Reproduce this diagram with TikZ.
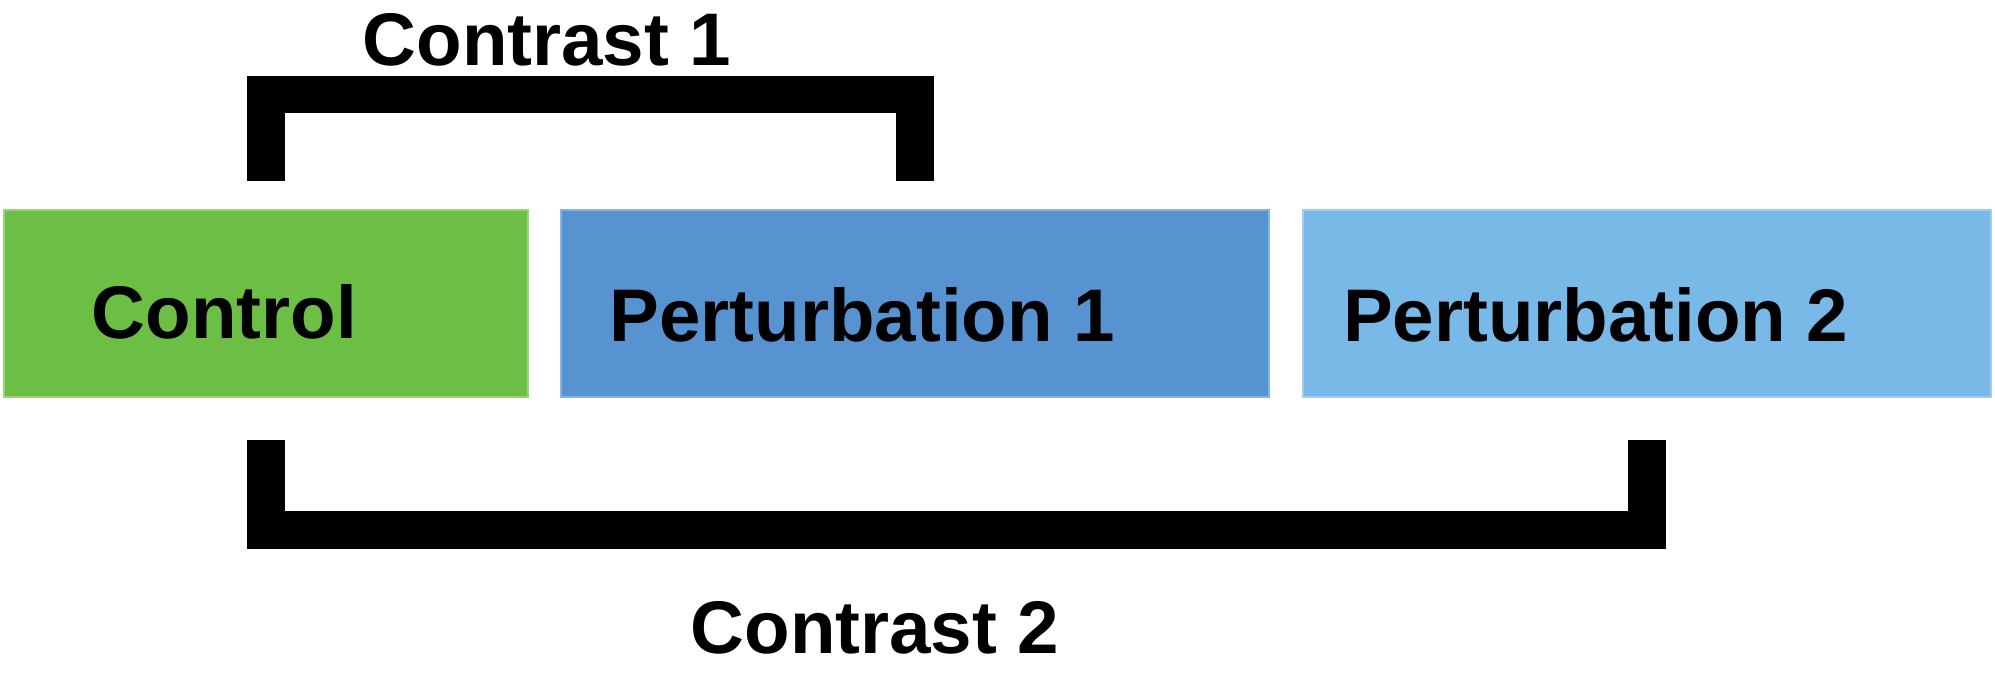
\documentclass[tikz,border=0pt]{standalone}
\usepackage{fontspec}
\setmainfont{Liberation Sans}
\usepackage{tikz}
\usetikzlibrary{
    positioning,
    calc,
}
\usepackage{xcolor}
\definecolor{boxctrl}{HTML}{6DBE45}
\definecolor{boxpone}{HTML}{5793D0}
\definecolor{boxptwo}{HTML}{78B9E7}

\begin{document}
\begin{tikzpicture}[
    x=0.01cm, y=-0.01cm,
    cbox/.style    = {rectangle, inner sep=0pt, outer sep=0pt,
                      minimum height=1.865cm, line width=0.6pt},
    ctrl/.style    = {cbox, fill=boxctrl, draw=boxctrl!70!white,
                      minimum width=5.235cm},
    pone/.style    = {cbox, fill=boxpone, draw=boxpone!70!white,
                      minimum width=7.075cm},
    ptwo/.style    = {cbox, fill=boxptwo, draw=boxptwo!70!white,
                      minimum width=6.87cm},
    lbl/.style     = {font=\fontsize{21.2}{25}\selectfont\bfseries,
                      inner sep=0pt, anchor=base west},
    bracket/.style = {line width=0.375cm, line cap=butt, line join=miter},
]
\useasboundingbox (0,0) rectangle (1995,682);

%% ── Boxes ────────────────────────────────────────────────────────────────────
\node[ctrl] (ctrl) at (266,303.3) {};
\node[pone, right=0.33cm of ctrl] (pert1) {};
\node[ptwo, right=0.345cm of pert1] (pert2) {};

\node[lbl] (tctrl)  at ($(ctrl.west)+(87,35)$)   {Control};
\node[lbl] (tpert1) at ($(pert1.west)+(48,37.7)$) {Perturbation 1};
\node[lbl] (tpert2) at ($(pert2.west)+(39,37.7)$) {Perturbation 2};

%% ── Contrasts ────────────────────────────────────────────────────────────────
\draw[bracket] ([yshift=0.29cm]ctrl.north) |- ([yshift=1.155cm]pert1.north)
               -- ([yshift=0.29cm]pert1.north);
\node[lbl] (con1) at (362,66) {Contrast 1};

\draw[bracket] ([yshift=-0.43cm]ctrl.south) |- ([yshift=-1.335cm]pert2.south)
               -- ([yshift=-0.43cm]pert2.south);
\node[lbl] (con2) at (690,653) {Contrast 2};

\end{tikzpicture}
\end{document}
